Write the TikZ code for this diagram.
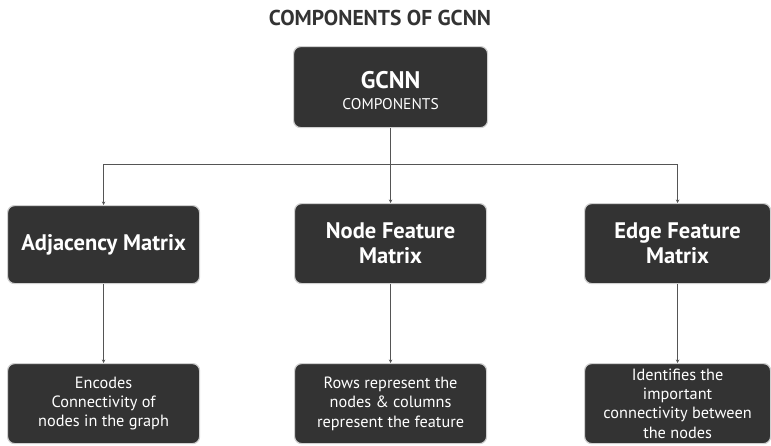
\documentclass[tikz,border=0pt]{standalone}
\usepackage{fontspec}
\setmainfont{PT Sans}
\usetikzlibrary{arrows.meta}
\definecolor{boxfill}{HTML}{333333}
\definecolor{boxedge}{HTML}{D0D0D0}
\definecolor{linecol}{HTML}{555555}
\tikzset{
  box/.style={draw=boxedge, line width=1.2pt, fill=boxfill, rounded corners=7pt,
    text=white, align=center, inner sep=0pt, anchor=north west},
  conn/.style={draw=linecol, line width=1pt},
  arr/.style={conn, -{Stealth[length=3.5pt,width=3.5pt]}},
}
\begin{document}
\begin{tikzpicture}[x=1pt,y=-1pt]
\useasboundingbox (0,0) rectangle (771,445);
\node[text=boxfill, font=\fontsize{21.5}{24}\selectfont\bfseries] (title) at (380,18) {COMPONENTS OF GCNN};
% top box
\node[box, minimum width=194pt, minimum height=81pt] (top) at (293,46) {};
\node[text=white, align=center, font=\fontsize{15.5}{21}\selectfont] at (top.center) [yshift=-3pt]
  {{\fontsize{24}{21}\selectfont\bfseries GCNN}\\COMPONENTS};
% middle row
\node[box, minimum width=192pt, minimum height=78pt, font=\fontsize{22.5}{25}\selectfont\bfseries] (adj) at (7,205) {Adjacency Matrix};
\node[box, minimum width=192pt, minimum height=80pt, font=\fontsize{22.5}{25}\selectfont\bfseries] (nfm) at (294,203) {Node Feature\\Matrix};
\node[box, minimum width=186pt, minimum height=80pt, font=\fontsize{22.5}{25}\selectfont\bfseries] (efm) at (584,203) {Edge Feature\\Matrix};
% bottom row
\node[box, minimum width=192pt, minimum height=80pt, font=\fontsize{16.3}{19.3}\selectfont] (adjd) at (7,363) {Encodes\\Connectivity of\\nodes in the graph};
\node[box, minimum width=192pt, minimum height=80pt, font=\fontsize{16.3}{19.3}\selectfont] (nfmd) at (294,363) {Rows represent the\\nodes \& columns\\represent the feature};
\node[box, minimum width=186pt, minimum height=80pt, font=\fontsize{16.3}{19.3}\selectfont] (efmd) at (584,363) {Identifies the\\important\\connectivity between\\the nodes};
% connectors
\coordinate (jm) at (top.south |- 0,164);
\coordinate (jl) at (adj.north |- 0,164);
\coordinate (jr) at (efm.north |- 0,164);
\draw[conn] (top.south) -- (jm);
\draw[conn] (jl) -- (jr);
\draw[arr] (jl) -- (adj.north);
\draw[arr] (jm) -- (nfm.north);
\draw[arr] (jr) -- (efm.north);
\draw[arr] (adj.south) -- (adjd.north);
\draw[arr] (nfm.south) -- (nfmd.north);
\draw[arr] (efm.south) -- (efmd.north);
\end{tikzpicture}
\end{document}
